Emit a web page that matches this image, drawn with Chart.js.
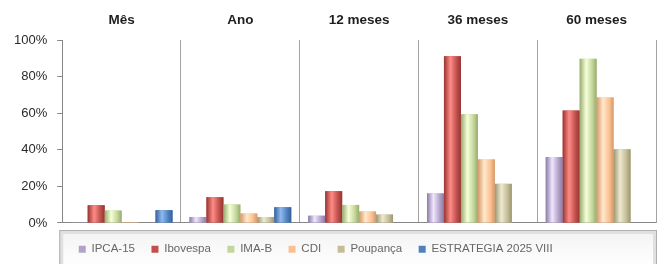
<!DOCTYPE html>
<html>
<head>
<meta charset="utf-8">
<script src="https://cdn.jsdelivr.net/npm/chart.js@4.4.1/dist/chart.umd.min.js"></script>
<style>
  html, body { margin: 0; padding: 0; background: #fff; }
  #wrap { width: 664px; height: 264px; }
</style>
</head>
<body>
<div id="wrap"><canvas id="chart" width="664" height="264"></canvas></div>
<script>
// periods (top labels)
const periods = ['Mês', 'Ano', '12 meses', '36 meses', '60 meses'];

// returns in %
const ipca15     = [0.4, 3.3, 4.0, 16.2, 36.1];
const ibovespa   = [9.7, 14.1, 17.4, 91.2, 61.5];
const imaB       = [6.8, 10.1, 9.9, 59.5, 89.8];
const cdi        = [0.5, 5.2, 6.3, 34.8, 68.7];
const poupanca   = [0, 3.3, 4.6, 21.4, 40.3];
const estrategia = [7.0, 8.6, null, null, null];

const yTicks = [0, 20, 40, 60, 80, 100];

// base / light / dark shades for the cylinder look
const shades = [
    ['#b3a2c7', '#efe6ff', '#8a7aa6'],
    ['#c0504d', '#ff8b86', '#973431'],
    ['#c3d69b', '#f6ffd8', '#97ab6d'],
    ['#fac090', '#ffe9cc', '#d69868'],
    ['#c4bd97', '#eeead0', '#9c9571'],
    ['#4f81bd', '#8fbaf2', '#35609a']
];

const series = [
    { label: 'IPCA-15', data: ipca15 },
    { label: 'Ibovespa', data: ibovespa },
    { label: 'IMA-B', data: imaB },
    { label: 'CDI', data: cdi },
    { label: 'Poupança', data: poupanca },
    { label: 'ESTRATEGIA 2025 VIII', data: estrategia }
];

// paints a horizontal gradient over each bar that the library laid out
const barShading = {
    id: 'barShading',
    afterDatasetsDraw(chart) {
        const ctx = chart.ctx;
        chart.data.datasets.forEach((ds, i) => {
            const meta = chart.getDatasetMeta(i);
            const s = shades[i];
            meta.data.forEach((el, j) => {
                if (ds.data[j] == null) return;
                const p = el.getProps(['x', 'y', 'base', 'width'], true);
                const h = p.base - p.y;
                if (h < 0.5) return;
                const left = p.x - p.width / 2;
                const g = ctx.createLinearGradient(left, 0, left + p.width, 0);
                g.addColorStop(0, s[2]);
                g.addColorStop(0.38, s[1]);
                g.addColorStop(0.75, s[0]);
                g.addColorStop(1, s[2]);
                ctx.save();
                ctx.fillStyle = g;
                ctx.fillRect(left, p.y, p.width, h);
                ctx.restore();
            });
        });
    }
};

// the framed panel behind the legend
const legendFrame = {
    id: 'legendFrame',
    beforeDraw(chart) {
        const ctx = chart.ctx;
        const a = chart.chartArea;
        const x0 = a.left - 3, x1 = a.right + 1;
        const y0 = a.bottom + 7, y1 = chart.height + 4;
        ctx.save();
        ctx.fillStyle = '#e0e0e0';
        ctx.fillRect(x0, y0, x1 - x0, y1 - y0);
        const g = ctx.createLinearGradient(0, y0 + 3, 0, y1);
        g.addColorStop(0, '#f4f4f4');
        g.addColorStop(1, '#ffffff');
        ctx.fillStyle = g;
        ctx.fillRect(x0 + 4, y0 + 4, x1 - x0 - 8, y1 - y0 - 4);
        ctx.strokeStyle = '#b0b0b0';
        ctx.lineWidth = 1;
        ctx.strokeRect(x0 + 0.5, y0 + 0.5, x1 - x0 - 1, y1 - y0);
        ctx.restore();
    }
};

new Chart(document.getElementById('chart'), {
    type: 'bar',
    data: {
        labels: periods,
        datasets: series.map((s, i) => ({
            label: s.label,
            data: s.data,
            backgroundColor: shades[i][0],
            borderWidth: 0,
            categoryPercentage: 0.857,
            barPercentage: 1
        }))
    },
    options: {
        responsive: false,
        animation: false,
        devicePixelRatio: 1,
        layout: { padding: { left: 4, right: 8, top: 0, bottom: -1 } },
        plugins: {
            tooltip: { enabled: false },
            legend: {
                position: 'bottom',
                align: 'start',
                fullSize: false,
                // empty spacer title: pushes the items down a little
                title: { display: true, text: ' ', padding: 0, font: { size: 3.34 } },
                labels: {
                    boxWidth: 7,
                    boxHeight: 7,
                    padding: 16.5,
                    color: '#2a2a2a',
                    font: { family: 'Liberation Sans', size: 11.5 },
                    generateLabels(chart) {
                        return chart.data.datasets.map((ds, i) => ({
                            text: ds.label,
                            fillStyle: shades[i][0],
                            strokeStyle: shades[i][0],
                            lineWidth: 0,
                            datasetIndex: i
                        }));
                    }
                }
            }
        },
        scales: {
            x: {
                position: 'top',
                border: { display: false },
                grid: { offset: true, color: '#a3a3a3', drawTicks: false },
                ticks: {
                    color: '#1e1e1e',
                    padding: 12,
                    font: { family: 'Liberation Sans', size: 13.5, weight: 'bold' }
                }
            },
            y: {
                min: 0,
                max: 100,
                afterBuildTicks(scale) {
                    scale.ticks = yTicks.map(v => ({ value: v }));
                },
                border: { color: '#868686' },
                grid: {
                    color: c => (c.tick && c.tick.value === 0) ? '#868686' : 'rgba(0,0,0,0)',
                    tickColor: '#868686',
                    tickLength: 5
                },
                ticks: {
                    padding: 10,
                    color: '#2a2a2a',
                    font: { family: 'Liberation Sans', size: 13 },
                    callback: v => v + '%'
                }
            }
        }
    },
    plugins: [legendFrame, barShading]
});
</script>
</body>
</html>
